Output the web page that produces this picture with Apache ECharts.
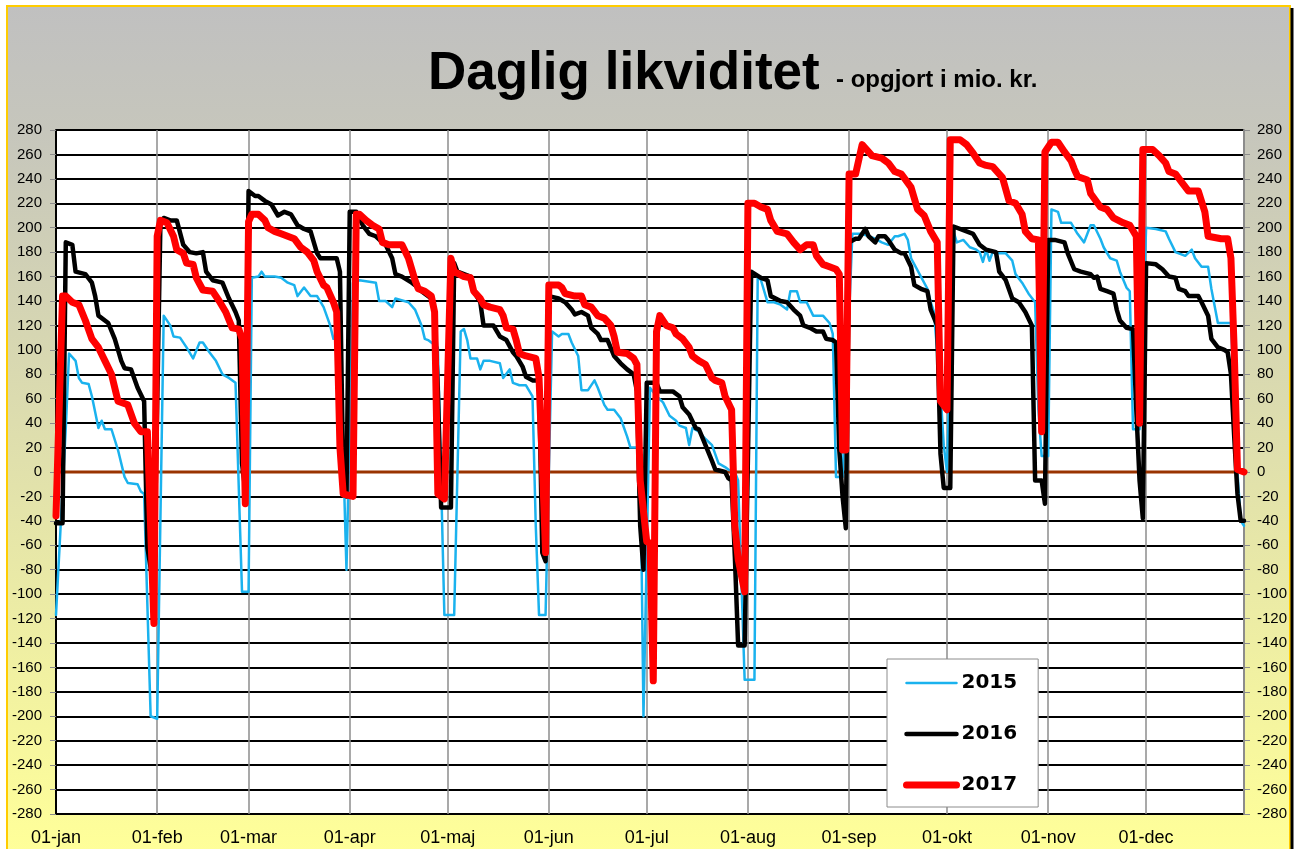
<!DOCTYPE html>
<html>
<head>
<meta charset="utf-8">
<title>Daglig likviditet</title>
<script src="https://cdn.jsdelivr.net/npm/echarts@6/dist/echarts.min.js"></script>
<style>
  html, body { margin: 0; padding: 0; background: #fff; }
  #chart { width: 1296px; height: 849px; }
</style>
</head>
<body>
<div id="chart"></div>
<script>
// x axis: one category per day, labelled dd-mmm
const months = ['jan', 'feb', 'mar', 'apr', 'maj', 'jun', 'jul', 'aug', 'sep', 'okt', 'nov', 'dec'];
const monthDays = [31, 28, 31, 30, 31, 30, 31, 31, 30, 31, 30, 31];
const yMin = -280, yMax = 280, yStep = 20;

// [day of year (0 = 01-jan), mio. kr.]
const data2015 = [
  [0, -117], [3, 36], [4, 97], [6, 91], [7, 77], [8, 73], [10, 72], [11, 62], [13, 36], [14, 42],
  [15, 35], [17, 35], [19, 18], [21, -4], [22, -9], [25, -10], [26, -16], [27, -18], [29, -200], [31, -202],
  [33, 128], [35, 120], [36, 111], [38, 110], [40, 102], [42, 93], [44, 106], [45, 106], [47, 98], [49, 91],
  [51, 80], [53, 77], [55, 73], [57, -98], [59, -98], [60, 159], [62, 160], [63, 164], [64, 160], [67, 160],
  [69, 159], [70, 157], [71, 155], [73, 153], [74, 144], [76, 151], [78, 144], [80, 144], [82, 135], [84, 120],
  [85, 109], [87, 109], [89, -80], [91, 155], [93, 157], [98, 155], [99, 140], [101, 140], [103, 135], [104, 142],
  [108, 139], [110, 133], [112, 120], [113, 109], [114, 108], [117, 102], [119, -117], [122, -117], [124, 115], [125, 117],
  [126, 108], [127, 93], [129, 93], [130, 84], [131, 91], [133, 91], [136, 89], [137, 77], [139, 84], [140, 73],
  [142, 71], [144, 71], [146, 62], [147, -44], [148, -117], [150, -117], [152, 115], [154, 111], [155, 113], [157, 113],
  [158, 106], [160, 95], [161, 67], [163, 67], [165, 75], [166, 69], [168, 55], [169, 51], [171, 51], [173, 44],
  [175, 29], [176, 20], [179, 20], [180, -200], [182, 69], [184, 62], [186, 57], [188, 46], [190, 42], [191, 38],
  [193, 36], [194, 22], [195, 36], [197, 33], [199, 27], [201, 22], [203, 7], [205, 4], [206, 2], [208, 0],
  [209, -7], [211, -170], [214, -170], [215, 160], [216, 157], [218, 139], [220, 139], [222, 137], [224, 133], [225, 148],
  [227, 148], [228, 139], [230, 139], [232, 128], [235, 128], [237, 122], [238, 113], [239, -4], [241, -4], [244, 195],
  [247, 195], [249, 193], [251, 191], [253, 188], [255, 186], [257, 193], [258, 193], [260, 195], [261, 190], [262, 175],
  [265, 160], [267, 150], [268, 139], [269, 131], [271, 66], [272, 22], [273, 0], [275, 197], [276, 188], [278, 190],
  [280, 184], [282, 182], [283, 180], [284, 172], [285, 182], [286, 173], [287, 180], [289, 179], [291, 179], [293, 173],
  [294, 162], [296, 155], [298, 146], [300, 139], [301, 51], [302, 13], [304, 13], [305, 215], [307, 213], [308, 204],
  [311, 204], [313, 195], [315, 188], [317, 202], [318, 202], [320, 191], [321, 184], [323, 175], [325, 173], [326, 164],
  [328, 151], [329, 148], [330, 35], [332, 35], [334, 200], [337, 199], [340, 197], [341, 191], [343, 180], [346, 177],
  [348, 182], [349, 175], [351, 168], [353, 168], [354, 150], [356, 122], [360, 122], [362, 0], [363, -40], [364, -44]
];

const data2016 = [
  [0, -42], [2, -42], [3, 188], [5, 186], [6, 164], [9, 162], [11, 155], [12, 144], [13, 128], [16, 122],
  [18, 109], [20, 91], [21, 85], [23, 84], [25, 69], [27, 58], [28, -62], [30, -95], [32, 205], [33, 208],
  [35, 206], [37, 206], [39, 186], [41, 180], [43, 179], [45, 180], [46, 164], [48, 157], [51, 155], [53, 142],
  [55, 131], [56, 124], [57, 7], [58, -15], [59, 230], [61, 226], [62, 226], [64, 222], [66, 219], [68, 210],
  [70, 213], [72, 211], [74, 202], [76, 199], [78, 197], [80, 179], [81, 175], [86, 175], [87, 164], [88, -5],
  [89, -20], [90, 213], [92, 213], [94, 202], [96, 195], [98, 193], [100, 188], [101, 186], [103, 175], [104, 162],
  [106, 160], [109, 155], [110, 153], [111, 150], [113, 146], [115, 142], [116, 131], [117, 66], [118, -29], [121, -29],
  [122, 171], [123, 164], [127, 160], [128, 148], [130, 139], [131, 120], [134, 120], [136, 111], [138, 108], [140, 98],
  [141, 95], [143, 86], [144, 78], [146, 75], [148, 75], [149, -66], [150, -73], [151, 144], [154, 142], [156, 139],
  [158, 133], [159, 129], [161, 131], [163, 128], [164, 118], [166, 113], [167, 108], [169, 108], [171, 95], [173, 89],
  [175, 84], [177, 80], [178, 66], [179, -44], [180, -80], [181, 73], [184, 73], [185, 66], [189, 66], [191, 62],
  [192, 53], [194, 47], [196, 36], [197, 35], [199, 22], [201, 9], [202, 2], [205, 0], [206, -5], [207, -7],
  [208, -69], [209, -142], [211, -142], [213, 164], [216, 159], [218, 157], [219, 144], [222, 140], [224, 139], [226, 133],
  [228, 128], [229, 120], [231, 118], [233, 115], [235, 115], [236, 109], [238, 108], [239, 106], [240, 18], [241, -20],
  [242, -46], [243, 188], [245, 191], [246, 191], [248, 199], [249, 193], [251, 188], [252, 193], [254, 193], [255, 190],
  [257, 182], [259, 179], [260, 179], [262, 168], [263, 153], [265, 150], [267, 148], [268, 133], [270, 120], [271, 15],
  [272, -13], [274, -13], [275, 201], [279, 197], [281, 195], [283, 186], [285, 182], [288, 180], [289, 164], [291, 157],
  [293, 142], [295, 139], [297, 131], [299, 120], [300, -7], [302, -7], [303, -26], [304, 190], [306, 190], [309, 188],
  [310, 179], [312, 166], [314, 164], [317, 162], [318, 159], [319, 160], [320, 150], [322, 148], [324, 146], [325, 133],
  [326, 124], [328, 118], [330, 117], [331, 51], [332, -7], [333, -38], [334, 171], [337, 170], [339, 166], [341, 160],
  [343, 159], [344, 150], [346, 148], [347, 144], [350, 144], [351, 139], [353, 128], [354, 109], [356, 102], [358, 100],
  [359, 98], [360, 80], [361, 29], [362, -18], [363, -40], [364, -40]
];

const data2017 = [
  [0, -36], [2, 144], [3, 144], [5, 139], [7, 137], [9, 124], [11, 109], [13, 102], [15, 91], [17, 80],
  [19, 58], [22, 55], [24, 40], [26, 33], [28, 33], [30, -124], [31, 193], [32, 206], [34, 204], [36, 193],
  [37, 182], [39, 179], [40, 171], [42, 170], [43, 159], [45, 149], [48, 148], [50, 140], [52, 131], [54, 118],
  [56, 117], [57, 109], [58, -26], [59, 205], [60, 211], [62, 211], [64, 206], [65, 200], [67, 197], [69, 195],
  [71, 193], [73, 191], [75, 184], [77, 180], [79, 173], [80, 164], [82, 153], [83, 151], [85, 139], [86, 131],
  [87, 20], [88, -18], [91, -20], [92, 211], [93, 211], [95, 206], [97, 202], [99, 199], [100, 188], [102, 186],
  [106, 186], [108, 175], [110, 157], [111, 150], [113, 148], [115, 144], [116, 131], [117, -18], [119, -22], [121, 175],
  [122, 164], [125, 160], [127, 159], [128, 148], [130, 142], [131, 137], [133, 135], [136, 133], [137, 128], [138, 118],
  [140, 117], [141, 108], [142, 97], [144, 95], [147, 93], [148, 77], [149, 7], [150, -66], [151, 153], [154, 153],
  [155, 151], [156, 146], [159, 144], [161, 144], [162, 137], [164, 135], [166, 128], [168, 126], [170, 120], [171, 111],
  [172, 98], [175, 97], [177, 93], [178, 88], [179, -7], [181, -57], [182, -58], [183, -171], [184, 115], [185, 128],
  [187, 120], [189, 118], [190, 113], [192, 109], [194, 102], [195, 95], [197, 91], [199, 88], [201, 77], [202, 75],
  [204, 73], [205, 62], [207, 51], [208, -44], [209, -71], [211, -98], [212, 220], [214, 220], [216, 217], [218, 215],
  [219, 206], [221, 197], [224, 195], [226, 188], [228, 182], [230, 186], [232, 186], [233, 177], [235, 170], [237, 168],
  [239, 166], [240, 162], [241, 18], [242, 18], [243, 244], [245, 244], [247, 268], [250, 259], [253, 257], [255, 253],
  [257, 246], [259, 244], [262, 233], [264, 215], [266, 210], [268, 197], [270, 188], [271, 58], [273, 51], [274, 272],
  [277, 272], [279, 268], [281, 261], [283, 253], [285, 251], [287, 250], [290, 241], [292, 222], [294, 220], [296, 211],
  [297, 197], [299, 191], [301, 190], [302, 33], [303, 262], [305, 270], [307, 270], [309, 262], [311, 255], [312, 248],
  [313, 242], [316, 239], [317, 228], [320, 217], [322, 215], [324, 208], [327, 204], [329, 202], [331, 193], [332, 40],
  [333, 264], [336, 264], [338, 259], [340, 253], [341, 246], [343, 244], [345, 237], [347, 230], [350, 230], [352, 213],
  [353, 193], [357, 191], [359, 191], [360, 175], [361, 100], [362, 2], [364, 0]
];

const zeroLine = [[0, 0], [364, 0]];

// build the day categories: 01-jan ... 31-dec
const days = [];
months.forEach((m, i) => {
  for (let d = 1; d <= monthDays[i]; d++) {
    days.push((d < 10 ? '0' : '') + d + '-' + m);
  }
});
const isMonthStart = (idx, val) => val.slice(0, 2) === '01';

const chart = echarts.init(document.getElementById('chart'));

const font = 'Liberation Sans, Arial, sans-serif';

chart.setOption({
  animation: false,
  textStyle: { fontFamily: font },
  graphic: {
    elements: [
      {
        type: 'rect', z: -10, silent: true,
        shape: { x: 7, y: 6, width: 1283, height: 845 },
        style: {
          fill: new echarts.graphic.LinearGradient(0, 0, 0, 1, [
            { offset: 0, color: '#c0c0c0' },
            { offset: 0.15, color: '#c6c6bc' },
            { offset: 1, color: '#ffff99' }
          ]),
          stroke: '#ffcc00', lineWidth: 2
        }
      },
      {
        type: 'line', z: -9, silent: true,
        shape: { x1: 1292, y1: 8, x2: 1292, y2: 849 },
        style: { stroke: '#000', lineWidth: 3 }
      }
    ]
  },
  title: [
    {
      text: 'Daglig likviditet', left: 428, top: 48, padding: 0,
      textStyle: { fontFamily: font, fontWeight: 'bold', fontSize: 53, color: '#000' }
    },
    {
      text: '- opgjort i mio. kr.', left: 836, top: 68, padding: 0,
      textStyle: { fontFamily: font, fontWeight: 'bold', fontSize: 24, color: '#000' }
    }
  ],
  legend: {
    orient: 'vertical', left: 887, top: 659, align: 'left',
    itemWidth: 50, itemHeight: 14, itemGap: 27,
    padding: [12, 21, 10, 16],
    backgroundColor: '#fff', borderColor: '#8c8c8c', borderWidth: 1,
    textStyle: { fontFamily: 'DejaVu Sans', fontWeight: 'bold', fontSize: 20, color: '#000', lineHeight: 24 },
    itemStyle: { opacity: 0 },
    lineStyle: { width: 'inherit', cap: 'round', opacity: 1 },
    data: ['2015', '2016', '2017']
  },
  grid: {
    left: 56, right: 52, top: 130, bottom: 35,
    show: true, backgroundColor: '#fff', borderWidth: 0
  },
  xAxis: {
    type: 'category', data: days, boundaryGap: false,
    axisLine: { show: false },
    axisTick: { show: false },
    axisLabel: {
      interval: isMonthStart, margin: 15,
      fontFamily: font, fontSize: 18, color: '#000'
    },
    splitLine: {
      show: true, interval: isMonthStart,
      lineStyle: { color: '#8c8c8c', width: 1.5 }
    }
  },
  yAxis: [
    {
      type: 'value', min: yMin, max: yMax, interval: yStep, position: 'left',
      axisLine: { show: true, lineStyle: { color: '#000', width: 2 } },
      axisTick: { show: true, length: 6, lineStyle: { color: '#8c8c8c', width: 1 } },
      axisLabel: { margin: 14, fontFamily: font, fontSize: 15, color: '#000' },
      splitLine: { show: true, lineStyle: { color: '#000', width: 2 } }
    },
    {
      type: 'value', min: yMin, max: yMax, interval: yStep, position: 'right',
      axisLine: { show: true, lineStyle: { color: '#8c8c8c', width: 2 } },
      axisTick: { show: true, length: 6, lineStyle: { color: '#8c8c8c', width: 1 } },
      axisLabel: { margin: 13, fontFamily: font, fontSize: 15, color: '#000' },
      splitLine: { show: false }
    }
  ],
  series: [
    {
      name: 'nul', type: 'line', data: zeroLine, symbol: 'none', silent: true, z: 1,
      lineStyle: { color: '#993300', width: 3 }
    },
    {
      name: '2015', type: 'line', data: data2015, symbol: 'none', z: 2,
      lineStyle: { color: '#1ab2ee', width: 2.5, join: 'round', cap: 'round' },
      itemStyle: { color: '#1ab2ee' }
    },
    {
      name: '2016', type: 'line', data: data2016, symbol: 'none', z: 3,
      lineStyle: { color: '#000', width: 4.5, join: 'round', cap: 'round' },
      itemStyle: { color: '#000' }
    },
    {
      name: '2017', type: 'line', data: data2017, symbol: 'none', z: 4,
      lineStyle: { color: '#ff0000', width: 7, join: 'round', cap: 'round' },
      itemStyle: { color: '#ff0000' }
    }
  ]
});
</script>
</body>
</html>
